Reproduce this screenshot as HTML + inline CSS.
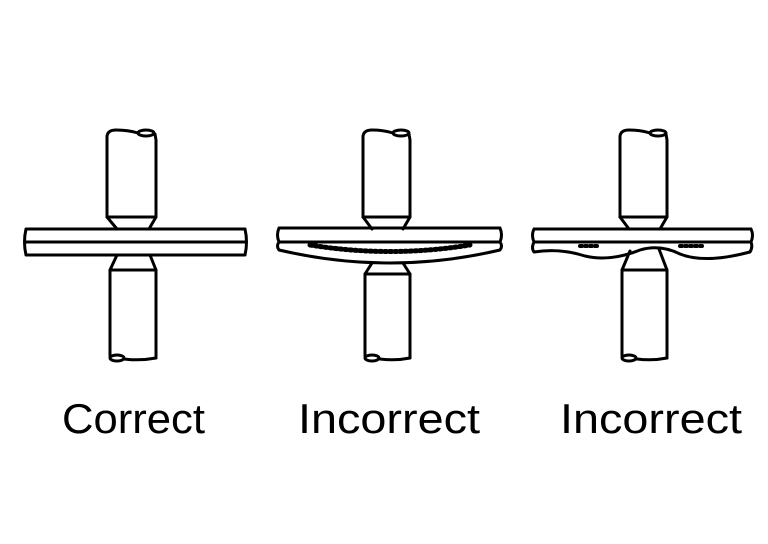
<!DOCTYPE html>
<html><head><meta charset="utf-8"><style>
html,body{margin:0;padding:0;background:#fff;width:768px;height:544px;overflow:hidden}
svg{display:block}
text{font-family:"Liberation Sans",sans-serif;font-size:42px;fill:#000}
</style></head><body>
<svg width="768" height="544" viewBox="0 0 768 544" xmlns="http://www.w3.org/2000/svg">
<g fill="none" stroke="#000" stroke-width="3" stroke-linejoin="round" stroke-linecap="round">
<!-- Panel 1 -->
<g>
<path d="M107,217 L107,136 Q108,130 116,130 Q128,130 138,133"/>
<path d="M155,134 L156,140 L156,217 L107,217"/>
<ellipse cx="146" cy="133" rx="8" ry="3"/>
<path d="M107,217 L117,229 M156,217 L149,229"/>
<path d="M26,229 L245,229 M26,242 L245,242 M26,255 L245,255 M26,229 Q23,242 26,255 M245,229 Q248,242 245,255"/>
<path d="M117,255 L110,270 L110,356 M156,358 L156,270 L150,255"/>
<path d="M124,359 Q140,361 156,358"/>
<path d="M110,270 L156,270"/>
<ellipse cx="117" cy="358" rx="7" ry="3"/>
</g>
<!-- Panel 2 -->
<g>
<path d="M363,217 L363,136 Q364,130 372,130 Q384,130 393,133"/>
<path d="M409,134 L410,140 L410,217 L363,217"/>
<ellipse cx="401" cy="133" rx="8" ry="3"/>
<path d="M363,217 L372,229 M410,217 L403,229"/>
<path d="M279,228 L500,228 M279,242 L500,242 M279,228 Q276,235 279,242 M500,228 Q503,235 500,242"/>
<path d="M279,242 Q276,246 279,250 Q390,276 500,250 Q503,246 500,242"/>
<path d="M310,245 Q390,258 470,245" stroke-width="5" stroke-dasharray="2 3"/>
<path d="M372,263 L365,274 L365,356 M410,358 L410,274 L403,263"/>
<path d="M380,359 Q395,361 410,358"/>
<path d="M365,274 L410,274"/>
<ellipse cx="372" cy="358" rx="7" ry="3"/>
</g>
<!-- Panel 3 -->
<g>
<path d="M620,217 L620,136 Q621,130 629,130 Q641,130 650,133"/>
<path d="M666,134 L667,140 L667,217 L620,217"/>
<ellipse cx="658" cy="133" rx="8" ry="3"/>
<path d="M620,217 L629,229 M667,217 L660,229"/>
<path d="M534,229 L751,229 M534,242 L751,242 M534,229 Q531,235 534,242 M751,229 Q754,235 751,242"/>
<path d="M534,242 Q531,248 534,252 Q560,248 585,256 Q610,262 640,250 Q660,244 680,254 Q705,264 750,252 Q753,247 751,242"/>
<path d="M580,246 L600,246 M680,246 L705,246" stroke-width="4" stroke-dasharray="2 3"/>
<path d="M630,251 L622,270 L622,356 M667,358 L667,270 L659,249"/>
<path d="M637,359 Q652,361 667,358"/>
<path d="M622,270 L667,270"/>
<ellipse cx="629" cy="358" rx="7" ry="3"/>
</g>
</g>
<text x="62" y="433" textLength="143" lengthAdjust="spacingAndGlyphs">Correct</text>
<text x="298" y="433" textLength="182" lengthAdjust="spacingAndGlyphs">Incorrect</text>
<text x="560" y="433" textLength="182" lengthAdjust="spacingAndGlyphs">Incorrect</text>
</svg>
</body></html>
